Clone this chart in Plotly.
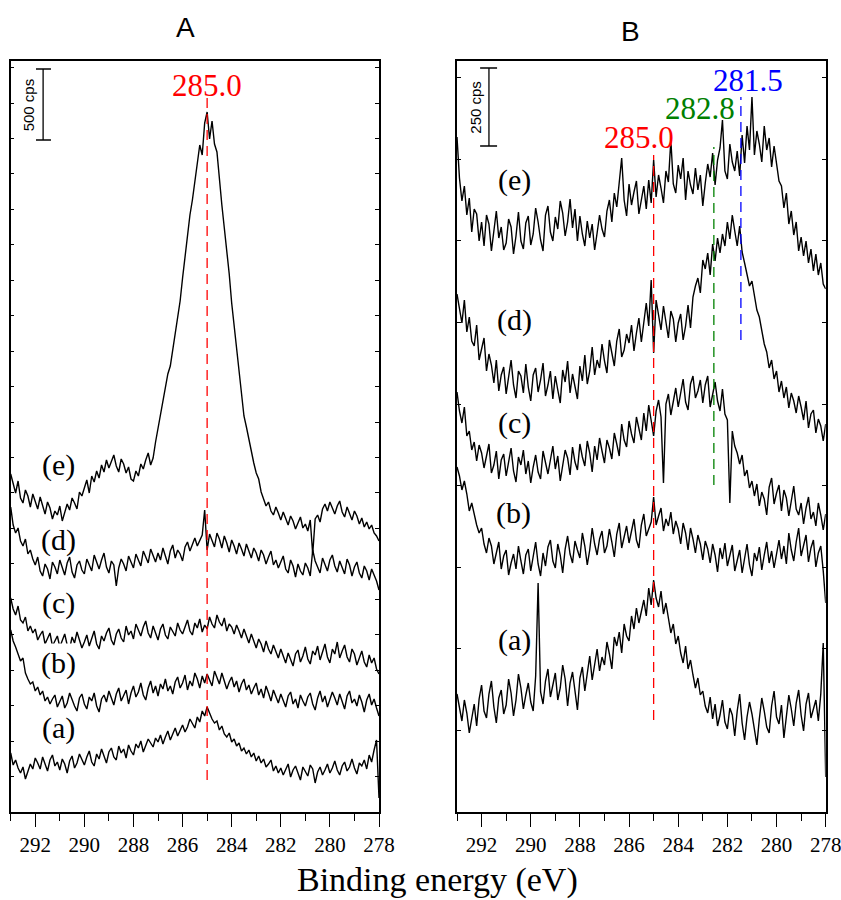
import plotly.graph_objects as go

# ---------------- data ----------------
# binding-energy sampling grid (eV), 293.0 -> 278.0 in 0.1 eV steps
ENERGY = [round(293.0 - 0.1 * i, 1) for i in range(151)]

# Panel A: C 1s spectra (stacked, intensity in arb. units; scale bar 71 units = 500 cps)
A_a = [59, 47, 52, 44, 39, 45, 33, 40, 48, 43,
       54, 49, 43, 55, 47, 41, 52, 57, 46, 50,
       42, 53, 48, 39, 51, 56, 44, 49, 58, 52,
       47, 55, 61, 50, 46, 58, 53, 63, 57, 49,
       60, 64, 55, 52, 66, 59, 63, 54, 67, 61,
       57, 68, 64, 71, 60, 66, 73, 69, 65, 74,
       70, 77, 68, 75, 81, 72, 78, 84, 76, 82,
       87, 80, 85, 93, 88, 84, 95, 90, 101, 96,
       105, 98, 93, 89, 91, 82, 86, 78, 75, 79,
       70, 73, 66, 69, 61, 64, 58, 62, 55, 59,
       51, 56, 49, 53, 45, 48, 52, 41, 46, 39,
       44, 37, 43, 48, 35, 42, 46, 38, 32, 45,
       41, 36, 47, 43, 29, 40, 45, 37, 42, 48,
       39, 44, 51, 42, 37, 46, 50, 41, 45, 53,
       44, 38, 49, 46, 52, 43, 57, 50, 62, 72,
       14]
A_b = [182, 171, 165, 158, 151, 154, 139, 133, 128, 130,
       121, 125, 117, 121, 111, 115, 108, 113, 117, 105,
       110, 116, 104, 109, 119, 112, 106, 101, 114, 118,
       108, 103, 115, 111, 119, 106, 100, 113, 117, 110,
       121, 114, 107, 118, 124, 111, 116, 122, 108, 119,
       126, 115, 120, 129, 117, 112, 124, 131, 119, 126,
       116, 128, 123, 133, 121, 126, 118, 130, 135, 124,
       129, 137, 122, 131, 126, 139, 133, 124, 136, 129,
       138, 131, 126, 141, 134, 128, 139, 132, 123, 130,
       135, 125, 131, 120, 128, 133, 122, 127, 118, 124,
       129, 117, 123, 114, 126, 119, 111, 122, 116, 109,
       118, 112, 105, 116, 120, 108, 113, 104, 117, 111,
       106, 115, 119, 108, 102, 114, 121, 110, 116, 105,
       112, 120, 114, 107, 118, 111, 103, 116, 121, 109,
       113, 106, 117, 110, 100, 112, 118, 107, 113, 104,
       96]
A_c = [214, 203, 197, 206, 192, 189, 195, 181, 186, 179,
       183, 172, 177, 181, 168, 174, 179, 166, 171, 176,
       165, 172, 178, 167, 163, 175, 169, 180, 173, 164,
       170, 177, 166, 174, 181, 168, 163, 176, 171, 179,
       184, 172, 167, 178, 183, 174, 170, 186, 177, 181,
       173, 188, 182, 176, 185, 191, 179, 174, 186, 180,
       172, 183, 188, 177, 173, 185, 180, 176, 189, 182,
       178, 186, 192, 181, 177, 189, 184, 193, 180, 187,
       183, 195, 188, 184, 197, 190, 186, 194, 181, 188,
       185, 178, 187, 181, 174, 183, 176, 169, 178, 170,
       164, 173, 168, 160, 171, 163, 158, 167, 161, 154,
       163, 157, 149, 159, 153, 146, 158, 162, 150, 156,
       165, 153, 148, 161, 157, 166, 152, 159, 168, 155,
       149, 163, 158, 170, 154, 161, 167, 155, 150, 163,
       158, 147, 155, 161, 150, 145, 157, 149, 154, 143,
       138]
A_d = [305, 287, 279, 284, 271, 266, 273, 258, 262, 253,
       247, 255, 241, 236, 248, 243, 233, 250, 245, 238,
       252, 244, 237, 249, 255, 240, 234, 247, 251, 242,
       238, 253, 246, 241, 257, 249, 243, 252, 259, 245,
       239, 251, 247, 226, 244, 253, 248, 241, 256, 250,
       244, 258, 252, 246, 261, 255, 249, 263, 257, 250,
       259, 252, 264, 256, 248, 261, 267, 254, 262, 258,
       251, 265, 270, 261, 268, 274, 266, 271, 277, 302,
       262, 278, 271, 265, 279, 273, 264, 276, 269, 260,
       272, 266, 258, 269, 263, 256, 268, 260, 254, 264,
       259, 251, 262, 257, 248, 255, 261, 247, 252, 244,
       250, 256, 243, 239, 252, 246, 235, 248, 241, 237,
       249, 244, 236, 262, 251, 245, 239, 254, 248, 241,
       252, 257, 246, 240, 251, 244, 238, 253, 247, 236,
       245, 250, 239, 234, 246, 241, 232, 243, 237, 231,
       222]
A_e = [338, 327, 319, 331, 314, 309, 322, 316, 305, 318,
       311, 303, 315, 307, 298, 310, 304, 293, 301, 297,
       306, 291, 299, 308, 302, 314, 309, 303, 320, 316,
       324, 332, 319, 336, 330, 341, 334, 347, 340, 352,
       344, 351, 357, 346, 340, 353, 348, 339, 345, 333,
       331, 341, 336, 348, 343, 352, 359, 347, 354, 370,
       384, 397, 414, 424, 438, 446, 463, 478, 496, 511,
       534, 556, 578, 597, 612, 631, 646, 667, 657, 689,
       700, 673, 691, 668, 660, 629, 607, 584, 563, 538,
       509, 485, 462, 441, 418, 396, 385, 372, 360, 349,
       339, 333, 320, 313, 306, 310, 301, 297, 305, 299,
       292, 300, 294, 287, 296, 291, 283, 289, 295, 284,
       288, 281, 292, 258, 293, 297, 290, 303, 308, 301,
       310, 304, 298, 306, 311, 300, 295, 305, 299, 292,
       301, 296, 288, 294, 285, 290, 283, 287, 279, 276,
       271]

# Panel B: C 1s spectra (stacked, intensity in arb. units; scale bar 78 units = 250 cps)
B_a = [118, 104, 91, 112, 99, 79, 96, 108, 86, 113,
       127, 101, 94, 118, 131, 105, 89, 114, 122, 98,
       107, 133, 119, 96, 112, 138, 124, 103, 117, 129,
       110, 101, 136, 229, 120, 108, 131, 143, 115, 126,
       139, 112, 124, 147, 133, 106, 129, 140, 118, 102,
       134, 145, 121, 138, 156, 132, 149, 163, 141, 155,
       147, 170, 158, 143, 175, 166, 180, 159, 188, 176,
       171, 196, 183, 204, 189, 199, 212, 196, 224, 207,
       232, 214, 205, 221, 198, 209, 193, 179, 188, 168,
       176, 159, 149, 166, 143, 152, 137, 124, 134, 117,
       121, 106, 99, 115, 93, 108, 86, 97, 112, 90,
       83, 104, 97, 76, 101, 118, 89, 72, 95, 110,
       98, 84, 67, 93, 114, 101, 85, 79, 106, 121,
       95, 88, 107, 74, 96, 117, 103, 86, 109, 122,
       97, 81, 108, 119, 94, 103, 112, 91, 118, 169,
       35]
B_b = [345, 336, 322, 331, 318, 301, 309, 296, 287, 279,
       284, 268, 259, 274, 266, 248, 261, 270, 243, 256,
       262, 237, 249, 258, 243, 266, 251, 238, 257, 263,
       241, 254, 270, 248, 236, 259, 246, 265, 272, 251,
       244, 268, 257, 239, 263, 276, 258, 249, 271, 262,
       254, 279, 266, 247, 262, 284, 268, 257, 273, 281,
       259, 266, 283, 270, 255, 278, 289, 264, 275, 286,
       269, 281, 293, 272, 264, 287, 298, 276, 283, 290,
       315, 287, 296, 304, 281, 293, 286, 300, 278, 291,
       283, 268, 289, 279, 262, 284, 273, 259, 277, 268,
       252, 271, 263, 249, 268, 257, 240, 264, 253, 269,
       246, 258, 267, 241, 253, 262, 239, 256, 268, 247,
       236, 259, 251, 265, 242, 257, 270, 249, 261, 244,
       258, 272, 253, 266, 248, 279, 262, 251, 270, 284,
       256, 268, 277, 250, 264, 272, 245, 259, 266, 241,
       209]
B_c = [420, 401, 389, 405, 376, 381, 362, 370, 351, 367,
       359, 344, 356, 368, 339, 347, 361, 333, 352, 358,
       336, 349, 364, 341, 330, 355, 347, 362, 338, 351,
       329, 345, 357, 340, 333, 361, 349, 338, 352, 366,
       343, 356, 331, 348, 362, 354, 337, 365, 350, 342,
       368, 355, 346, 371, 359, 340, 366, 352, 374, 361,
       349, 372, 364, 353, 379, 368, 356, 388, 372, 365,
       391, 378, 369, 395, 383, 372, 399, 381, 407, 390,
       376, 401, 412, 395, 329, 408, 418, 397, 411, 424,
       405, 419, 433, 410, 402, 428, 436, 414, 421, 432,
       409, 427, 436, 405, 418, 430, 411, 401, 423, 398,
       392, 309, 381, 366, 359, 348, 357, 336, 342, 324,
       331, 316, 328, 306, 320, 313, 297, 325, 334, 308,
       319, 327, 301, 322, 314, 296, 311, 326, 303, 297,
       309, 288, 304, 315, 293, 300, 286, 309, 297, 282,
       298]
B_d = [518, 503, 489, 512, 480, 495, 471, 466, 487, 452,
       463, 474, 441, 458, 447, 429, 452, 421, 437, 445,
       418, 433, 452, 427, 414, 441, 436, 419, 448, 425,
       411, 437, 444, 420, 432, 449, 416, 427, 441, 413,
       436, 422, 409, 442, 430, 451, 419, 438, 426, 413,
       446, 431, 457, 428, 441, 465, 437, 452, 444, 468,
       451, 439, 472, 458, 446, 471, 483, 455, 462, 478,
       469, 487, 461, 479, 494, 470, 488, 509, 486, 532,
       459, 512, 497, 482, 506, 488, 474, 501, 493, 470,
       489, 498, 472, 486, 507, 484, 515, 526, 534, 519,
       552, 543, 559, 537, 568, 551, 574, 559, 578, 566,
       590, 573, 597, 581, 566, 586, 560, 549, 539, 526,
       531, 514, 502, 495, 483, 468, 460, 444, 452, 433,
       441, 420, 431, 414, 425, 404, 419, 411, 399, 416,
       405, 392, 411, 384, 398, 402, 379, 393, 386, 371,
       388]
B_e = [675, 634, 611, 626, 597, 614, 580, 603, 598, 571,
       590, 566, 597, 588, 561, 579, 601, 574, 585, 562,
       569, 593, 585, 558, 576, 600, 571, 563, 589, 596,
       567, 578, 604, 590, 572, 561, 597, 606, 580, 571,
       595, 583, 611, 599, 576, 590, 613, 584, 603, 571,
       596, 578, 566, 591, 574, 588, 562, 579, 597, 583,
       575, 601, 612, 590, 619, 605, 633, 654, 612, 596,
       628, 607, 620, 631, 598, 611, 626, 603, 632, 609,
       652, 615, 637, 624, 609, 641, 630, 672, 628, 619,
       647, 633, 654, 612, 641, 627, 618, 644, 622, 637,
       606, 629, 648, 635, 659, 627, 652, 664, 692, 641,
       633, 668, 650, 641, 661, 636, 677, 649, 686, 662,
       715, 657, 681, 668, 650, 686, 662, 674, 645, 666,
       650, 631, 626, 604, 619, 588, 601, 577, 590, 561,
       575, 556, 571, 549, 563, 541, 558, 537, 549, 528,
       523]

LABELS = ["(a)", "(b)", "(c)", "(d)", "(e)"]
SERIES_A = [A_a, A_b, A_c, A_d, A_e]
SERIES_B = [B_a, B_b, B_c, B_d, B_e]

# label anchor positions (eV, intensity)
LABEL_POS_A = [(291.07, 84), (291.07, 149), (291.07, 209), (291.07, 272), (291.07, 347)]
LABEL_POS_B = [(290.65, 172), (290.7, 299), (290.65, 389), (290.65, 492), (290.65, 632)]
LABEL_BG_A = [False, True, True, False, False]
LABEL_BG_B = [False, True, False, False, False]

# reference peak markers: (line position eV, y0, y1, label, label eV, label y, colour)
MARKS_A = [(285.0, 32, 714, "285.0", 285.0, 727, "#ff0000")]
MARKS_B = [(285.0, 92, 657, "285.0", 285.6, 675, "#ff0000"),
           (282.55, 327, 665, "282.8", 283.11, 704, "#008000"),
           (281.45, 472, 715, "281.5", 281.16, 732, "#0000ff")]

X_RANGE = [293, 278]
Y_RANGE = [0, 751]

SERIF = "Liberation Serif"
SANS = "Liberation Sans"

W, H = 841, 900

def px(x):
    return x / W

def py(y):
    return (H - y) / H

domA = [px(10.7), px(379)]
domB = [px(457), px(825.7)]
ydom = [py(812), py(61)]

fig = go.Figure()

for s in SERIES_A:
    fig.add_trace(go.Scatter(x=ENERGY, y=s, mode="lines", xaxis="x", yaxis="y",
                             line=dict(color="black", width=1.4), showlegend=False, hoverinfo="skip"))
for s in SERIES_B:
    fig.add_trace(go.Scatter(x=ENERGY, y=s, mode="lines", xaxis="x2", yaxis="y2",
                             line=dict(color="black", width=1.4), showlegend=False, hoverinfo="skip"))

shapes = []
annotations = []

def add_marks(marks, xr, yr):
    for (xe, y0, y1, txt, lx, ly, col) in marks:
        shapes.append(dict(type="line", xref=xr, yref=yr, x0=xe, x1=xe, y0=y0, y1=y1,
                           line=dict(color=col, width=1.3, dash="10px,6px")))
        annotations.append(dict(xref=xr, yref=yr, x=lx, y=ly, text=txt, showarrow=False,
                                font=dict(family=SERIF, size=31, color=col),
                                xanchor="center", yanchor="middle"))

add_marks(MARKS_A, "x", "y")
add_marks(MARKS_B, "x2", "y2")

def add_labels(pos, bgs, xr, yr):
    for lab, (lx, ly), bg in zip(LABELS, pos, bgs):
        d = dict(xref=xr, yref=yr, x=lx, y=ly, text=lab, showarrow=False,
                 font=dict(family=SERIF, size=30, color="black"),
                 xanchor="center", yanchor="middle")
        if bg:
            d["bgcolor"] = "white"
            d["borderpad"] = 2
        annotations.append(d)

add_labels(LABEL_POS_A, LABEL_BG_A, "x", "y")
add_labels(LABEL_POS_B, LABEL_BG_B, "x2", "y2")

# scale bars
def add_scalebar(xr, yr, xc, xl, xh, y0, y1, txt, tx):
    shapes.append(dict(type="line", xref=xr, yref=yr, x0=xc, x1=xc, y0=y0, y1=y1,
                       line=dict(color="black", width=1.3)))
    for yy in (y0, y1):
        shapes.append(dict(type="line", xref=xr, yref=yr, x0=xl, x1=xh, y0=yy, y1=yy,
                           line=dict(color="black", width=1.3)))
    annotations.append(dict(xref=xr, yref=yr, x=tx, y=(y0 + y1) / 2, text=txt, showarrow=False,
                            textangle=-90, font=dict(family=SANS, size=15, color="black"),
                            xanchor="center", yanchor="middle"))

add_scalebar("x", "y", 291.68, 291.97, 291.36, 672, 743, "500 cps", 292.26)
add_scalebar("x2", "y2", 291.70, 292.06, 291.37, 666, 744, "250 cps", 292.28)

# panel titles and axis title
annotations.append(dict(xref="paper", yref="paper", x=px(185), y=py(27), text="A",
                        showarrow=False, font=dict(family=SANS, size=28, color="black"),
                        xanchor="center", yanchor="middle"))
annotations.append(dict(xref="paper", yref="paper", x=px(630), y=py(31), text="B",
                        showarrow=False, font=dict(family=SANS, size=28, color="black"),
                        xanchor="center", yanchor="middle"))
annotations.append(dict(xref="paper", yref="paper", x=px(437), y=py(880),
                        text="Binding energy (eV)", showarrow=False,
                        font=dict(family=SERIF, size=34, color="black"),
                        xanchor="center", yanchor="middle"))

xbase = dict(range=X_RANGE, showgrid=False, zeroline=False, showline=True, linecolor="black",
             linewidth=1.5, mirror=True, ticks="outside", ticklen=13, tickwidth=1.2,
             tickcolor="black", tick0=278, dtick=2, automargin=False,
             ticklabeloverflow="allow",
             minor=dict(dtick=1, ticks="outside", ticklen=7, tickwidth=1.2, tickcolor="black"),
             tickfont=dict(family=SERIF, size=21, color="black"))
xtop = dict(range=X_RANGE, showgrid=False, zeroline=False, showline=False, side="top",
            ticks="inside", ticklen=4, tickwidth=1, tickcolor="black", tick0=278, dtick=1,
            showticklabels=False, automargin=False)
ybase = dict(range=Y_RANGE, showgrid=False, zeroline=False, showline=True, linecolor="black",
             linewidth=1.5, mirror="ticks", ticks="inside", ticklen=4, tickwidth=1,
             tickcolor="black", tick0=0, showticklabels=False, automargin=False)

fig.update_layout(
    width=W, height=H, autosize=False,
    margin=dict(l=0, r=0, t=0, b=0, pad=0),
    paper_bgcolor="white", plot_bgcolor="white",
    xaxis=dict(xbase, domain=domA, anchor="y"),
    yaxis=dict(ybase, domain=ydom, anchor="x", dtick=35.45),
    xaxis2=dict(xbase, domain=domB, anchor="y2"),
    yaxis2=dict(ybase, domain=ydom, anchor="x2", dtick=81.6),
    xaxis3=dict(xtop, overlaying="x", anchor="y"),
    xaxis4=dict(xtop, overlaying="x2", anchor="y2"),
    shapes=shapes,
    annotations=annotations,
)

fig.write_html(
    "out.html",
    config={"displayModeBar": False},
    post_script=("document.body.style.margin='0';"
                 "document.documentElement.style.overflow='hidden';"
                 "document.body.style.overflow='hidden';"
                 "Plotly.relayout('{plot_id}', {width: 841, height: 900});"),
)
